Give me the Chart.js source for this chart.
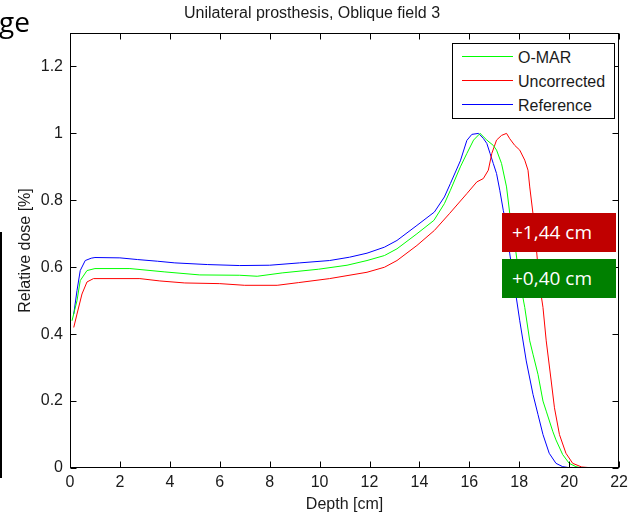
<!DOCTYPE html>
<html>
<head>
<meta charset="utf-8">
<title>Unilateral prosthesis, Oblique field 3</title>
<script src="https://cdn.jsdelivr.net/npm/chart.js@4.4.1/dist/chart.umd.min.js"></script>
<style>
  html, body { margin: 0; padding: 0; background: #fff; overflow: hidden; }
  #wrap { position: relative; width: 633px; height: 518px; }
  #doseChart { position: absolute; left: 0; top: 0; }
  .slideText { position: absolute; left: -1px; top: 2px; font: 28px "Open Sans", sans-serif; color: #000; }
  .bar { position: absolute; left: 0; top: 232px; width: 2px; height: 246px; background: #000; }
  .tag { position: absolute; left: 502px; width: 114px; height: 39px; color: #fff;
         font: 19px "Open Sans", sans-serif; line-height: 39px; box-sizing: border-box; padding-left: 10px; }
  .tag.red { top: 213px; background: #c00000; }
  .tag.green { top: 259px; background: #008000; }
  #legenda { position: absolute; left: 452px; top: 43px; width: 163px; height: 76px; box-sizing: border-box;
             border: 1px solid #000; background: #fff; font: 16px "Liberation Sans", Arial, sans-serif; color: #1a1a1a; }
  #legenda .row { position: absolute; left: 9px; height: 20px; line-height: 20px; white-space: nowrap; }
  #legenda .ln { position: absolute; left: 0; top: 9px; width: 51px; height: 1px; }
  #legenda .lbl { position: absolute; left: 56px; top: 1px; }
</style>
</head>
<body>
<div id="wrap">
  <canvas id="doseChart" width="633" height="518"></canvas>
  <div id="legenda"></div>
  <div class="slideText">ge</div>
  <div class="bar"></div>
  <div class="tag red">+1,44 cm</div>
  <div class="tag green">+0,40 cm</div>
</div>

<script>
// ---- dados ----
const xTicks = [0, 2, 4, 6, 8, 10, 12, 14, 16, 18, 20, 22];
const yTicks = [0, 0.2, 0.4, 0.6, 0.8, 1, 1.2];
const seriesNames = ["O-MAR", "Uncorrected", "Reference"];
const seriesColors = ["#00ff00", "#ff0000", "#0000ff"];

const omarDepth = [0.08, 0.28, 0.41, 0.68, 1.0, 2.4, 3.8, 5.2, 6.8, 7.5,
  8.5, 9.95, 11.1, 11.9, 12.6, 13.1, 13.9, 14.58, 15.0, 15.24,
  15.64, 15.9, 16.17, 16.43, 16.7, 16.96, 17.09, 17.29, 17.49, 17.62,
  17.82, 18.02, 18.22, 18.42, 18.55, 18.75, 18.95, 19.08, 19.34, 19.47,
  19.74, 20.0, 20.27, 20.5];
const omarDose = [0.44, 0.50, 0.56, 0.59, 0.596, 0.596, 0.586, 0.577, 0.576, 0.573,
  0.583, 0.594, 0.606, 0.62, 0.635, 0.655, 0.70, 0.74, 0.79, 0.83,
  0.9, 0.94, 0.98, 1.0, 0.98, 0.964, 0.95, 0.91, 0.84, 0.76,
  0.67, 0.56, 0.48, 0.38, 0.34, 0.28, 0.20, 0.17, 0.11, 0.084,
  0.04, 0.014, 0.004, 0];

const uncDepth = [0.15, 0.28, 0.48, 0.68, 0.94, 2.8, 3.6, 4.6, 6.0, 7.0,
  8.3, 9.15, 10.4, 11.9, 12.6, 13.1, 13.9, 14.6, 15.2, 15.9,
  16.3, 16.56, 16.76, 16.9, 17.09, 17.29, 17.49, 17.62, 17.82, 18.02,
  18.22, 18.35, 18.42, 18.55, 18.68, 18.81, 18.95, 19.08, 19.28, 19.41,
  19.61, 19.87, 20.14, 20.5, 21.0];
const uncDose = [0.42, 0.46, 0.52, 0.556, 0.566, 0.566, 0.559, 0.553, 0.551, 0.546,
  0.546, 0.554, 0.566, 0.585, 0.60, 0.62, 0.665, 0.71, 0.76, 0.82,
  0.855, 0.865, 0.89, 0.94, 0.98, 0.994, 1.0, 0.984, 0.964, 0.95,
  0.92, 0.89, 0.84, 0.76, 0.66, 0.55, 0.48, 0.38, 0.26, 0.18,
  0.10, 0.044, 0.014, 0.003, 0];

const refDepth = [0.15, 0.28, 0.41, 0.61, 0.85, 1.0, 2.0, 2.7, 3.5, 4.2,
  5.5, 6.8, 8.0, 9.2, 10.4, 11.2, 11.9, 12.6, 13.1, 13.9,
  14.6, 15.0, 15.24, 15.64, 15.9, 16.1, 16.37, 16.56, 16.7, 16.83,
  16.96, 17.09, 17.22, 17.36, 17.42, 17.62, 17.82, 18.02, 18.28, 18.55,
  18.75, 18.95, 19.2, 19.47, 19.74, 20.0, 20.35];
const refDose = [0.46, 0.53, 0.59, 0.62, 0.627, 0.629, 0.628, 0.623, 0.618, 0.613,
  0.608, 0.605, 0.606, 0.613, 0.62, 0.63, 0.642, 0.66, 0.68, 0.725,
  0.765, 0.81, 0.85, 0.918, 0.979, 0.997, 1.0, 0.985, 0.97, 0.94,
  0.91, 0.88, 0.83, 0.77, 0.75, 0.64, 0.54, 0.44, 0.32, 0.22,
  0.16, 0.10, 0.044, 0.014, 0.004, 0.001, 0];

const depths = [omarDepth, uncDepth, refDepth];
const doses = [omarDose, uncDose, refDose];

const FONT = "'Liberation Sans', Arial, sans-serif";
const TXT = "#1a1a1a";

// pontos {x,y} para cada série
function pontos(d, v) {
  return d.map((x, i) => ({ x: x, y: v[i] }));
}

// legenda em HTML (caixa no canto superior direito)
const legendaEl = document.getElementById("legenda");
seriesNames.forEach((nome, i) => {
  const row = document.createElement("div");
  row.className = "row";
  row.style.top = (3 + i * 24) + "px";
  const ln = document.createElement("span");
  ln.className = "ln";
  ln.style.background = seriesColors[i];
  const lbl = document.createElement("span");
  lbl.className = "lbl";
  lbl.textContent = nome;
  row.appendChild(ln);
  row.appendChild(lbl);
  legendaEl.appendChild(row);
});

// moldura estilo MATLAB: caixa e ticks para dentro
const molduraMatlab = {
  id: "molduraMatlab",
  afterDraw(chart) {
    const c = chart.ctx, a = chart.chartArea, sc = chart.scales;
    const L = Math.round(a.left) + 0.5, R = Math.round(a.right) - 0.5;
    const T = Math.round(a.top) + 0.5, B = Math.round(a.bottom) - 0.5;
    const tl = 6;
    c.save();
    c.strokeStyle = "#000";
    c.lineWidth = 1;
    c.strokeRect(L, T, R - L, B - T);
    c.beginPath();
    xTicks.forEach(v => {
      const px = Math.round(sc.x.getPixelForValue(v)) + 0.5;
      c.moveTo(px, B); c.lineTo(px, B - tl);
      c.moveTo(px, T); c.lineTo(px, T + tl);
    });
    yTicks.forEach(v => {
      const py = Math.round(sc.y.getPixelForValue(v)) + 0.5;
      c.moveTo(L, py); c.lineTo(L + tl, py);
      c.moveTo(R, py); c.lineTo(R - tl, py);
    });
    c.stroke();
    c.restore();
  }
};

const ctx = document.getElementById("doseChart").getContext("2d");

new Chart(ctx, {
  type: "line",
  data: {
    datasets: seriesNames.map((nome, i) => ({
      label: nome,
      data: pontos(depths[i], doses[i]),
      borderColor: seriesColors[i],
      borderWidth: 1,
      pointRadius: 0,
      tension: 0,
      fill: false
    }))
  },
  options: {
    responsive: false,
    animation: false,
    layout: { padding: { left: 0, right: 9, top: 0, bottom: 0 } },
    plugins: {
      legend: { display: false },
      tooltip: { enabled: false },
      title: {
        display: true,
        text: "Unilateral prosthesis, Oblique field 3",
        color: TXT,
        font: { family: FONT, size: 16, weight: "normal" },
        padding: { top: 4.4, bottom: 9.4 }
      }
    },
    scales: {
      x: {
        type: "linear",
        min: 0,
        max: 22,
        afterFit: s => { s.height = 50; },
        afterBuildTicks: s => { s.ticks = xTicks.map(v => ({ value: v })); },
        ticks: { color: TXT, font: { family: FONT, size: 16 }, padding: 5, maxRotation: 0 },
        grid: { display: false, drawTicks: false },
        border: { display: false },
        title: {
          display: true, text: "Depth [cm]", color: TXT,
          font: { family: FONT, size: 16 }, padding: { top: 0, bottom: 4 }
        }
      },
      y: {
        min: 0,
        max: 1.3,
        afterFit: s => { s.width = 70; },
        afterBuildTicks: s => { s.ticks = yTicks.map(v => ({ value: v })); },
        ticks: {
          color: TXT, font: { family: FONT, size: 16 }, padding: 7,
          callback: v => String(Math.round(v * 10) / 10)
        },
        grid: { display: false, drawTicks: false },
        border: { display: false },
        title: {
          display: true, text: "Relative dose [%]", color: TXT,
          font: { family: FONT, size: 16 }, padding: { top: 16, bottom: 0 }
        }
      }
    }
  },
  plugins: [molduraMatlab]
});
</script>
</body>
</html>
